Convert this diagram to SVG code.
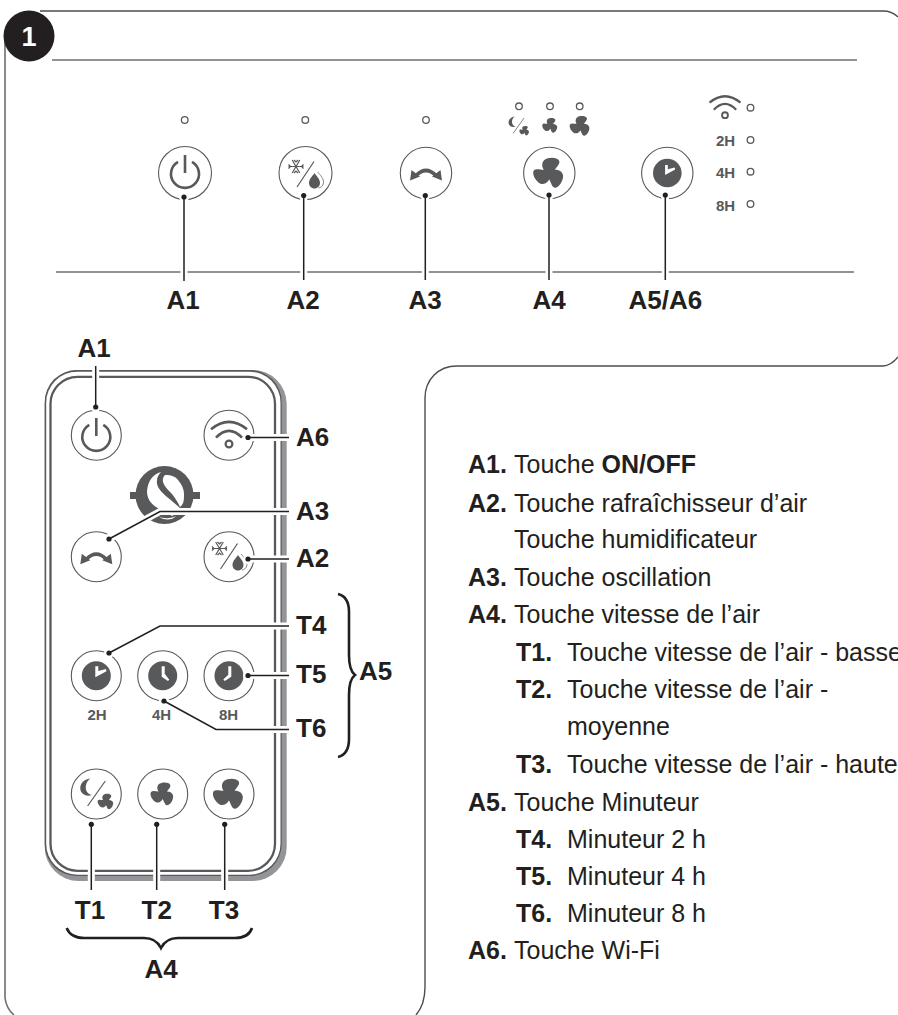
<svg xmlns="http://www.w3.org/2000/svg" width="898" height="1015" viewBox="0 0 898 1015">
<style>
text{font-family:"Liberation Sans",Arial,sans-serif;fill:#231f20}
.lab{font-size:26px;font-weight:bold}
.mid{text-anchor:middle}
.b{font-size:25px}
.bb{font-weight:bold}
.h{font-size:15px;font-weight:bold;fill:#58595b;text-anchor:middle}
.frame{fill:none;stroke:#4d4d4f;stroke-width:1.4}
.rule{fill:none;stroke:#6d6e71;stroke-width:1.6}
.ring{fill:#fff;stroke:#58595b;stroke-width:1.1}
.led{fill:#fff;stroke:#58595b;stroke-width:1.3}
.ic{fill:none;stroke:#58595b;stroke-width:2.6}
.thin{fill:none;stroke:#58595b;stroke-width:1.2}
.solid{fill:#58595b}
.halo{fill:none;stroke:#fff;stroke-width:7}
.lead{fill:none;stroke:#231f20;stroke-width:1.5}
.dot{fill:#231f20}
.dh{fill:#fff}
.brace{fill:none;stroke:#231f20;stroke-width:2.6}
</style>
<defs>
<g id="power"><path class="ic" d="M-7,-12.2A14,14 0 1 0 7,-12.2"/><path class="ic" d="M0,-19V-1"/></g>
<path id="blade" class="solid" d="M-1,2C-7,-3 -9,-9 -5,-13C-1,-16 8,-16 10,-12C11,-8 5,-5 4,1Z"/>
<g id="fan"><use href="#blade"/><use href="#blade" transform="rotate(120)"/><use href="#blade" transform="rotate(240)"/><circle r="4" class="solid"/></g>
<g id="osc"><path class="ic" d="M-10,2.5Q0,-7.5 10,2.5" style="stroke-width:3.6"/><path class="solid" d="M-16,7.5L-14.5,-3L-6,3.5ZM16,7.5L14.5,-3L6,3.5Z"/></g>
<g id="snowdrop">
<path class="thin" d="M8.5,-11.5L-8.5,14"/>
<g transform="translate(-9.5,-6.5)"><path class="thin" d="M-7.5,0H7.5M-3.8,-6.5L3.8,6.5M3.8,-6.5L-3.8,6.5M-2,-6.5L0,-4.5L2,-6.5M-2,6.5L0,4.5L2,6.5M-7.5,-2L-5.5,0L-7.5,2M7.5,-2L5.5,0L7.5,2"/></g>
<path class="solid" d="M9,0C11,3 14.5,6 14.5,10C14.5,13 12,15.5 9,15.5C6,15.5 3.5,13 3.5,10C3.5,6 7,3 9,0Z"/>
<path class="thin" d="M12,-1C15,2 18.5,6 18,10C17.6,13 15,15 13,15" style="stroke-width:.7"/>
</g>
<g id="wifi"><path class="ic" d="M-18,-5.7Q0,-20.5 18,-5.7"/><path class="ic" d="M-13,2.7Q0,-11 13,2.7"/><circle cx="0" cy="9" r="3.4" fill="#fff" stroke="#58595b" stroke-width="2.2"/></g>
<g id="moonfan">
<path class="thin" d="M9,-13L-8.7,12"/>
<path class="solid" d="M-6,-15.5C-12.5,-15 -16.5,-10 -16,-5C-15.5,0 -10,3 -4.5,1C-8.5,0 -11,-3 -10.5,-8C-10,-11 -8.5,-14 -6,-15.5Z"/>
<use href="#fan" transform="translate(9.7,7.7) scale(.52)"/>
</g>
<circle id="clockdisc" r="14.5" class="solid"/>
<path id="hand2" fill="#fff" d="M-1,-9.5H2V-4.6L9.6,-6.6L10.2,-4.4L-1,1.6Z"/>
<path id="hand4" fill="#fff" d="M-1,-9.5H2V-2L6.6,4L5.2,5.4L-1,1Z"/>
<path id="hand8" fill="#fff" d="M-.7,-9.5H2.3V1L-4.2,5.4L-5.7,3.9L-.7,-1Z"/>
</defs>

<g id="panels">
<path class="frame" d="M40,11H883C890,11 894,13 898,17"/>
<path class="frame" d="M898,357C894,362 889,366 883,366H457C438,366 425,380 425,398V987C425,1000 422,1008 416,1015"/>
<path class="frame" style="stroke:#6d6e71;stroke-width:1.6" d="M5,40V998C6,1005 9,1011 14,1015"/>
<path class="rule" d="M52,60H857"/>
<path class="rule" d="M56,272H854"/>
</g>

<g id="badge"><circle cx="29" cy="36" r="25.5" fill="#231f20"/><text x="29" y="45.5" class="mid" style="fill:#fff;font-size:27px;font-weight:bold">1</text></g>

<g id="panel-A1"><circle class="led" cx="184.7" cy="120" r="3.3"/><circle class="ring" cx="185" cy="173" r="26.5"/><use href="#power" transform="translate(185,174)"/></g>
<g id="panel-A2"><circle class="led" cx="305.3" cy="120" r="3.3"/><circle class="ring" cx="305.5" cy="173" r="26.5"/><use href="#snowdrop" transform="translate(305.5,173)"/></g>
<g id="panel-A3"><circle class="led" cx="426" cy="120" r="3.3"/><circle class="ring" cx="426" cy="173" r="25.7"/><use href="#osc" transform="translate(426,173)"/></g>
<g id="panel-A4">
<circle class="led" cx="519" cy="106.3" r="3.3"/><circle class="led" cx="550" cy="106.3" r="3.3"/><circle class="led" cx="579.7" cy="106.3" r="3.3"/>
<use href="#moonfan" transform="translate(518.5,126) scale(.62)"/>
<use href="#fan" transform="translate(550.3,125.5) scale(.5)"/>
<use href="#fan" transform="translate(580.3,126) scale(.66)"/>
<circle class="ring" cx="549.3" cy="173" r="25.7"/><use href="#fan" transform="translate(549.3,173)"/>
</g>
<g id="panel-A5"><circle class="ring" cx="667.3" cy="173" r="25.7"/><circle class="solid" cx="667.3" cy="173" r="14.3"/><use href="#hand2" transform="translate(666,173.5) scale(.9)"/></g>
<g id="panel-status">
<use href="#wifi" transform="translate(725,107.5) scale(.86)"/>
<circle class="led" cx="750.5" cy="107.7" r="3.3"/>
<text class="h" x="725.5" y="146">2H</text><circle class="led" cx="750.5" cy="140" r="3.3"/>
<text class="h" x="725.5" y="178">4H</text><circle class="led" cx="750.5" cy="171.7" r="3.3"/>
<text class="h" x="725.5" y="210.7">8H</text><circle class="led" cx="750.5" cy="204" r="3.3"/>
</g>

<g id="remote-body">
<rect x="44.7" y="370" width="242" height="511" rx="34" fill="#939598"/>
<rect x="44.7" y="370" width="237" height="506" rx="32" fill="#58595b"/>
<rect x="46.2" y="371.7" width="234.3" height="503" rx="31" fill="#fff"/>
<rect x="50.5" y="376.8" width="224.5" height="494" rx="27" fill="#fff" stroke="#58595b" stroke-width="2.3"/>
</g>
<g id="logo">
<rect x="130" y="492" width="70" height="7" class="solid"/>
<circle cx="164.5" cy="495" r="29" class="solid"/>
<path fill="#fff" d="M165,475C172,475 176,477 178,480C182,485 184,489 184,494C184,499 184,502 182,505L180,507C178,502 175,498 172,494C168,490 164,486 163,482C162.500,479 163,477 165,475Z"/>
<path fill="#fff" d="M161,472C153,474 148,481 147,491C147,498 150,503 156,507C162,511 168,512 172,516L182,510C177,505 172,501 167,497C160,491 156,486 157,480C157,477 159,474 161,472Z"/>
<path fill="#fff" d="M158,516C163,519 170,519 176,516C172,520.500 164,521 158,516Z"/>
</g>

<g id="remote-A1"><circle class="ring" cx="96.3" cy="435.3" r="25"/><use href="#power" transform="translate(96.3,437)"/></g>
<g id="remote-A6"><circle class="ring" cx="229" cy="435.3" r="25"/><use href="#wifi" transform="translate(229,435)"/></g>
<g id="remote-A3"><circle class="ring" cx="96.3" cy="556.7" r="25"/><use href="#osc" transform="translate(96.3,556.7)"/></g>
<g id="remote-A2"><circle class="ring" cx="229" cy="556.7" r="25"/><use href="#snowdrop" transform="translate(229,555)"/></g>
<g id="remote-T4"><circle class="ring" cx="96.3" cy="675.7" r="25"/><use href="#clockdisc" transform="translate(96.3,675.7)"/><use href="#hand2" transform="translate(96.3,675.7)"/><text class="h" x="97" y="720">2H</text></g>
<g id="remote-T5"><circle class="ring" cx="162.7" cy="675.7" r="25"/><use href="#clockdisc" transform="translate(162.7,675.7)"/><use href="#hand4" transform="translate(162.7,675.7)"/><text class="h" x="161.5" y="720">4H</text></g>
<g id="remote-T6"><circle class="ring" cx="229" cy="675.7" r="25"/><use href="#clockdisc" transform="translate(229,675.7)"/><use href="#hand8" transform="translate(229,675.7)"/><text class="h" x="228.5" y="720">8H</text></g>
<g id="remote-T1"><circle class="ring" cx="96.3" cy="794" r="25"/><use href="#moonfan" transform="translate(96.3,794)"/></g>
<g id="remote-T2"><circle class="ring" cx="162.7" cy="794" r="25"/><use href="#fan" transform="translate(162.7,794) scale(.76)"/></g>
<g id="remote-T3"><circle class="ring" cx="229" cy="794" r="25"/><use href="#fan" transform="translate(229,794)"/></g>

<g id="connectors">
<g class="halos">
<path class="halo" d="M184,197V281M303.7,195.5V280M425.3,195.5V280M549,195V280M665.3,195V280"/>
<path class="halo" d="M95.7,407V366M248,437.5H289M109,539L160,511.5H289M248,559H289M109,653L160,626H289M248,675.5H289M164,701L216,729.5H289M91.3,824.3V890M156.7,824.3V890M224.7,824.3V890"/>
<g class="dh"><circle cx="184" cy="197" r="5"/><circle cx="303.7" cy="195.5" r="5"/><circle cx="425.3" cy="195.5" r="5"/><circle cx="549" cy="195" r="5"/><circle cx="665.3" cy="195" r="5"/><circle cx="95.7" cy="407" r="5"/><circle cx="248" cy="437.5" r="5"/><circle cx="109" cy="539" r="5"/><circle cx="248" cy="559" r="5"/><circle cx="109" cy="653" r="5"/><circle cx="248" cy="675.5" r="5"/><circle cx="164" cy="701" r="5"/><circle cx="91.3" cy="824.3" r="5"/><circle cx="156.7" cy="824.3" r="5"/><circle cx="224.7" cy="824.3" r="5"/></g>
</g>
<path class="lead" d="M184,197V281M303.7,195.5V280M425.3,195.5V280M549,195V280M665.3,195V280"/>
<path class="lead" d="M95.7,407V366M248,437.5H289M109,539L160,511.5H289M248,559H289M109,653L160,626H289M248,675.5H289M164,701L216,729.5H289M91.3,824.3V890M156.7,824.3V890M224.7,824.3V890"/>
<g class="dot"><circle cx="184" cy="197" r="2.6"/><circle cx="303.7" cy="195.5" r="2.6"/><circle cx="425.3" cy="195.5" r="2.6"/><circle cx="549" cy="195" r="2.6"/><circle cx="665.3" cy="195" r="2.6"/><circle cx="95.7" cy="407" r="2.6"/><circle cx="248" cy="437.5" r="2.6"/><circle cx="109" cy="539" r="2.6"/><circle cx="248" cy="559" r="2.6"/><circle cx="109" cy="653" r="2.6"/><circle cx="248" cy="675.5" r="2.6"/><circle cx="164" cy="701" r="2.6"/><circle cx="91.3" cy="824.3" r="2.6"/><circle cx="156.7" cy="824.3" r="2.6"/><circle cx="224.7" cy="824.3" r="2.6"/></g>
<path class="brace" d="M338,594C346,596 349,602 349,612V655C349,665 351,672 355,675C351,678 349,685 349,695V739C349,749 346,755 338,757"/>
<path class="brace" d="M66.7,928C69,934 74,938 84,938H144C153,938 158,942 161,948C164,942 169,938 178,938H235C245,938 250,934 252,928"/>
</g>

<g id="labels">
<text class="lab mid" x="183" y="308.7">A1</text>
<text class="lab mid" x="303" y="308.7">A2</text>
<text class="lab mid" x="425" y="308.7">A3</text>
<text class="lab mid" x="549" y="308.7">A4</text>
<text class="lab mid" x="665.3" y="308.7">A5/A6</text>
<text class="lab mid" x="94" y="356.5">A1</text>
<text class="lab" x="296" y="445.7">A6</text>
<text class="lab" x="296" y="520">A3</text>
<text class="lab" x="296" y="567">A2</text>
<text class="lab" x="296" y="634">T4</text>
<text class="lab" x="296" y="683">T5</text>
<text class="lab" x="296" y="737">T6</text>
<text class="lab" x="359" y="680">A5</text>
<text class="lab mid" x="90" y="919">T1</text>
<text class="lab mid" x="156.7" y="919">T2</text>
<text class="lab mid" x="224" y="919">T3</text>
<text class="lab mid" x="161" y="978">A4</text>
</g>

<g id="legend" class="b">
<text class="b" x="468" y="473"><tspan class="bb">A1.</tspan></text><text class="b" x="514" y="473">Touche <tspan class="bb">ON/OFF</tspan></text>
<text class="b" x="468" y="512"><tspan class="bb">A2.</tspan></text><text class="b" x="514" y="512">Touche rafraîchisseur d’air</text>
<text class="b" x="514" y="548">Touche humidificateur</text>
<text class="b" x="468" y="586"><tspan class="bb">A3.</tspan></text><text class="b" x="514" y="586">Touche oscillation</text>
<text class="b" x="468" y="623"><tspan class="bb">A4.</tspan></text><text class="b" x="514" y="623">Touche vitesse de l’air</text>
<text class="b" x="516" y="661"><tspan class="bb">T1.</tspan></text><text class="b" x="567" y="661">Touche vitesse de l’air - basse</text>
<text class="b" x="516" y="698"><tspan class="bb">T2.</tspan></text><text class="b" x="567" y="698">Touche vitesse de l’air -</text>
<text class="b" x="567" y="735">moyenne</text>
<text class="b" x="516" y="773"><tspan class="bb">T3.</tspan></text><text class="b" x="567" y="773">Touche vitesse de l’air - haute</text>
<text class="b" x="468" y="811"><tspan class="bb">A5.</tspan></text><text class="b" x="514" y="811">Touche Minuteur</text>
<text class="b" x="516" y="848"><tspan class="bb">T4.</tspan></text><text class="b" x="567" y="848">Minuteur 2 h</text>
<text class="b" x="516" y="885"><tspan class="bb">T5.</tspan></text><text class="b" x="567" y="885">Minuteur 4 h</text>
<text class="b" x="516" y="922"><tspan class="bb">T6.</tspan></text><text class="b" x="567" y="922">Minuteur 8 h</text>
<text class="b" x="468" y="959"><tspan class="bb">A6.</tspan></text><text class="b" x="514" y="959">Touche Wi-Fi</text>
</g>
</svg>
